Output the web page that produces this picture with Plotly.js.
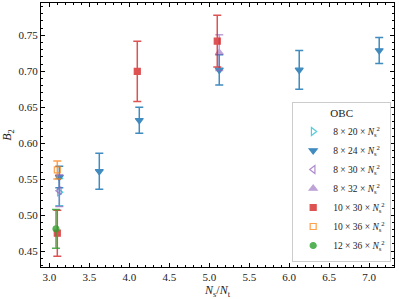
<!DOCTYPE html>
<html>
<head>
<meta charset="utf-8">
<script src="https://cdn.plot.ly/plotly-3.0.1.min.js"></script>
<style>html,body{margin:0;padding:0;background:#fff}#plot{width:399px;height:299px}</style>
</head>
<body>
<div id="plot"></div>
<script>
// Data
const names = ['8 × 20 × <i>N</i><sub>s</sub><sup>2</sup>', '8 × 24 × <i>N</i><sub>s</sub><sup>2</sup>', '8 × 30 × <i>N</i><sub>s</sub><sup>2</sup>', '8 × 32 × <i>N</i><sub>s</sub><sup>2</sup>', '10 × 30 × <i>N</i><sub>s</sub><sup>2</sup>', '10 × 36 × <i>N</i><sub>s</sub><sup>2</sup>', '12 × 36 × <i>N</i><sub>s</sub><sup>2</sup>'];

const x8x20 = [3.125];
const y8x20 = [0.532];
const e8x20 = [0.019];

const x8x24 = [3.125, 3.625, 4.125, 5.125, 6.125, 7.125];
const y8x24 = [0.553, 0.561, 0.632, 0.702, 0.702, 0.729];
const e8x24 = [0.015, 0.025, 0.018, 0.021, 0.027, 0.018];

const x8x30 = [3.125];
const y8x30 = [0.534];
const e8x30 = [0.022];

const x8x32 = [5.125];
const y8x32 = [0.726];
const e8x32 = [0.025];

const x10x30 = [3.1, 4.1, 5.1];
const y10x30 = [0.475, 0.700, 0.742];
const e10x30 = [0.032, 0.042, 0.036];

const x10x36 = [3.1];
const y10x36 = [0.563];
const e10x36 = [0.0125];

const x12x36 = [3.0833];
const y12x36 = [0.481];
const e12x36 = [0.027];

function tr(name, x, y, e, color, symbol, size, opacity) {
  return {
    type: 'scatter', mode: 'markers', name: name, x: x, y: y,
    marker: {color: color, symbol: symbol, size: size, line: {color: color, width: 1.2}},
    opacity: opacity,
    error_y: {type: 'data', array: e, visible: true, color: color, thickness: 1.5, width: 4}
  };
}

const data = [
  tr(names[0], x8x20, y8x20, e8x20, '#17becf', 'triangle-right-open', 7, 0.75),
  tr(names[1], x8x24, y8x24, e8x24, '#1f77b4', 'triangle-down', 7, 0.85),
  tr(names[2], x8x30, y8x30, e8x30, '#9467bd', 'triangle-left-open', 7, 0.75),
  tr(names[3], x8x32, y8x32, e8x32, '#9467bd', 'triangle-up', 7, 0.6),
  tr(names[4], x10x30, y10x30, e10x30, '#d62728', 'square', 6, 0.8),
  tr(names[5], x10x36, y10x36, e10x36, '#ff7f0e', 'square-open', 6, 0.75),
  tr(names[6], x12x36, y12x36, e12x36, '#2ca02c', 'circle', 6, 0.8)
];

const axisCommon = {
  showline: true, linecolor: '#000', linewidth: 1, mirror: 'allticks',
  ticks: 'inside', ticklen: 4, tickwidth: 1, tickcolor: '#000',
  showgrid: false, zeroline: false,
  tickfont: {family: 'Liberation Serif, serif', size: 11, color: '#222'}
};

const layout = {
  width: 399, height: 299,
  margin: {l: 41, r: 5, t: 3, b: 32},
  paper_bgcolor: '#fff', plot_bgcolor: '#fff',
  font: {family: 'Liberation Serif, serif', color: '#222'},
  xaxis: Object.assign({}, axisCommon, {
    range: [2.896, 7.31], dtick: 0.5, tick0: 0, tickformat: '.1f',
    minor: {ticks: 'inside', ticklen: 2, dtick: 0.1, tickcolor: '#000'},
    title: {text: '<i>N</i><sub>s</sub>/<i>N</i><sub>t</sub>', font: {size: 12}, standoff: 1}
  }),
  yaxis: Object.assign({}, axisCommon, {
    range: [0.428, 0.795], dtick: 0.05, tick0: 0, tickformat: '.2f',
    minor: {ticks: 'inside', ticklen: 2, dtick: 0.01, tickcolor: '#000'},
    title: {text: '<i>B</i><sub>2</sub>', font: {size: 12}, standoff: 5}
  }),
  showlegend: true,
  legend: {
    x: 0.992, xanchor: 'right', y: 0.02, yanchor: 'bottom',
    bgcolor: 'rgba(255,255,255,0.9)', bordercolor: '#ccc', borderwidth: 1,
    font: {family: 'Liberation Serif, serif', size: 9.5, color: '#222'},
    title: {text: 'OBC', side: 'top center', font: {size: 11}},
    tracegroupgap: 0, itemwidth: 30
  }
};

Plotly.newPlot('plot', data, layout, {staticPlot: true, displayModeBar: false});
</script>
</body>
</html>
